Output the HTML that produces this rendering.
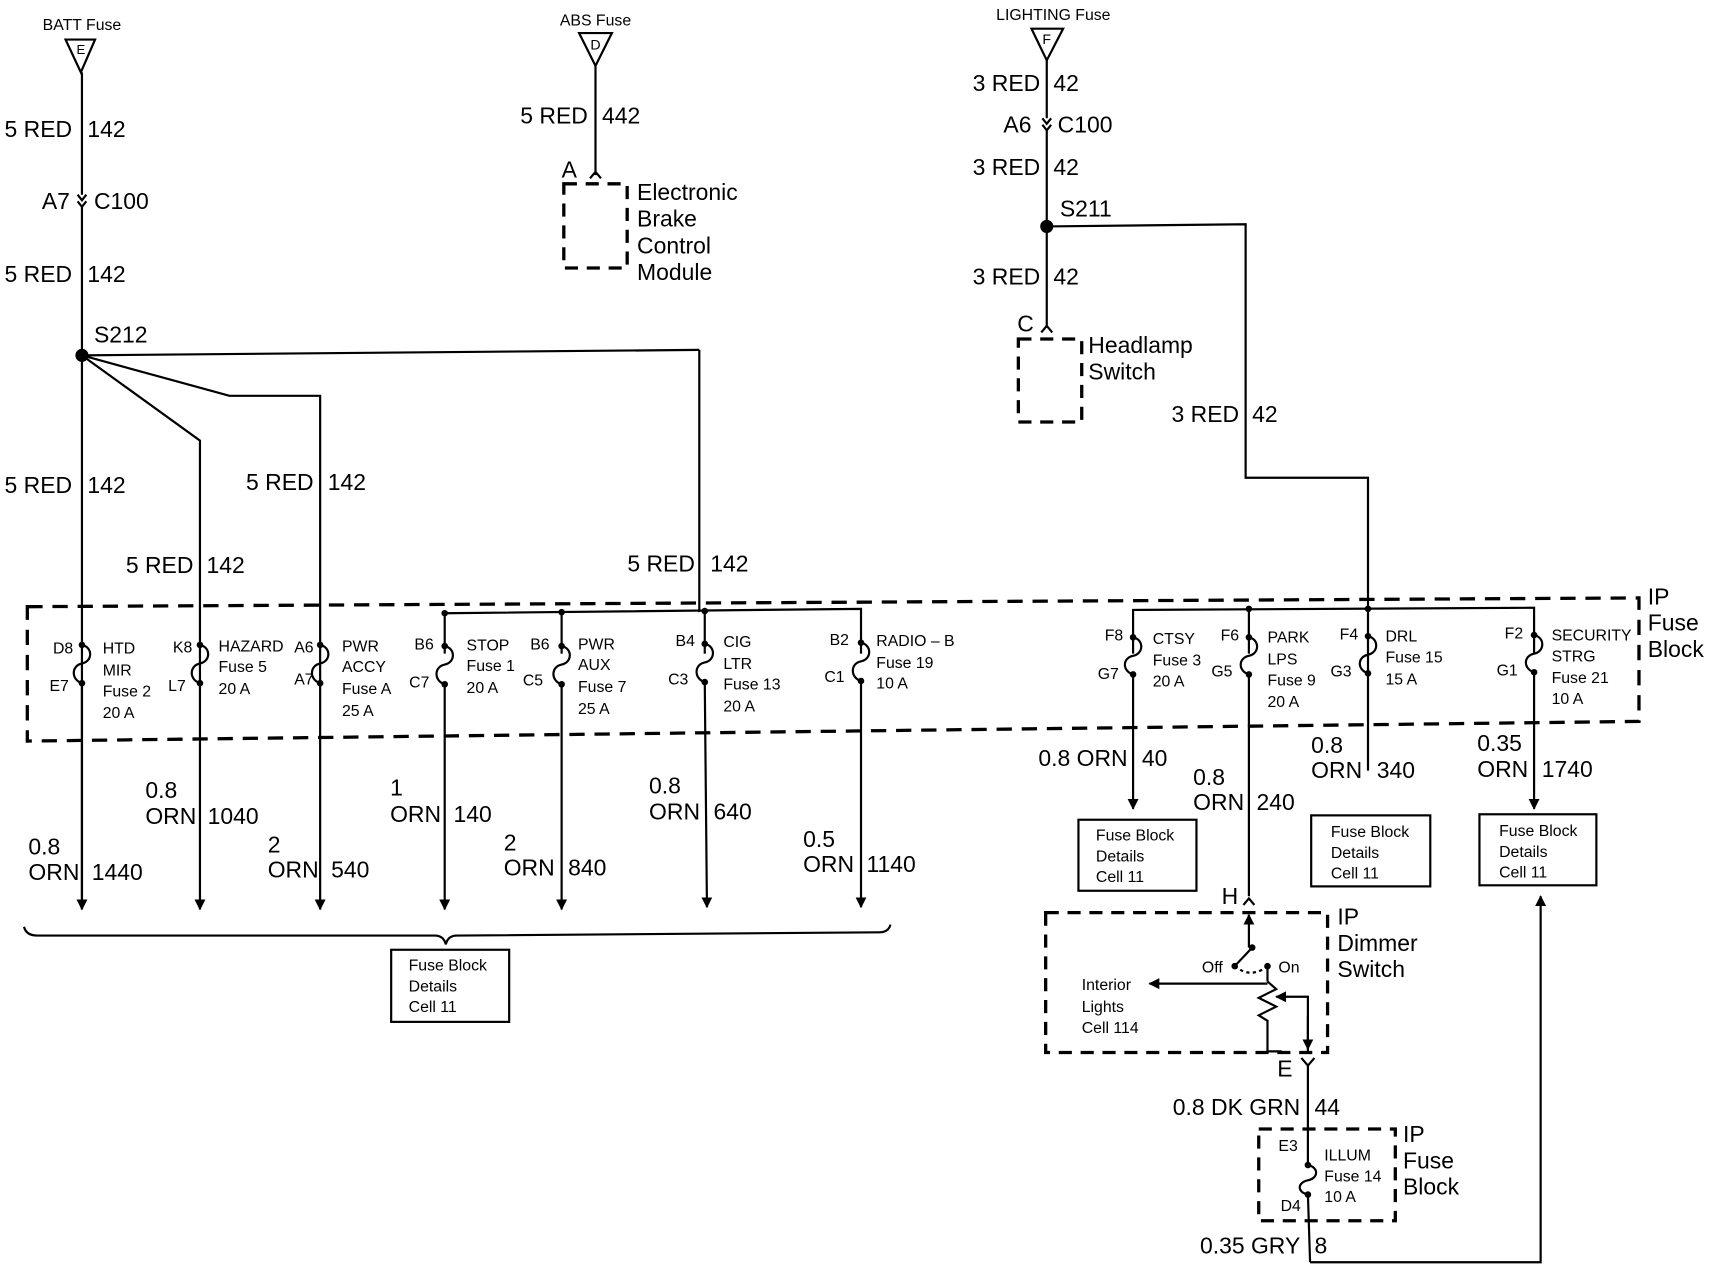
<!DOCTYPE html>
<html><head><meta charset="utf-8"><style>
html,body{margin:0;padding:0;background:#fff}
svg{display:block}
text{font-family:"Liberation Sans",sans-serif;fill:#000}
.b{font-size:21px}
.s{font-size:14.5px}
.m{font-size:16px}
</style></head><body>
<svg width="1710" height="1280" viewBox="0 0 1565 1171" xmlns="http://www.w3.org/2000/svg">
<defs>
<marker id="ad" viewBox="0 0 10 10" refX="9" refY="5" markerWidth="5" markerHeight="6" orient="auto"><path d="M0,0 L10,5 L0,10 z" fill="#000"/></marker>
</defs>
<g stroke="#000" stroke-width="2" fill="none">
<!-- BATT -->
<path d="M60,36 L87,36 L74,66 Z"/>
<line x1="75" y1="66" x2="75" y2="178"/>
<path d="M71,178 l4,5 l4,-5 M71,184 l4,5 l4,-5"/>
<line x1="75" y1="189" x2="75" y2="832" marker-end="url(#ad)"/>
<line x1="75" y1="325" x2="640" y2="320"/><line x1="640" y1="320" x2="640" y2="560"/>
<polyline points="75,325 183,403 183,832" marker-end="url(#ad)"/>
<polyline points="75,325 210,362 293,362 293,832" marker-end="url(#ad)"/>
<!-- IP fuse block dashed -->
<polygon points="25,555 1500,547 1500,660 25,678" stroke-width="3" stroke-dasharray="14,9"/>
<!-- bus left -->
<polyline points="407,598 407,561 788,557 788,598"/>
<line x1="514" y1="560" x2="514" y2="598"/>
<line x1="645" y1="558" x2="645" y2="598"/>
<!-- fuses left -->
<g id="fz">
<path d="M75,590 C85,592 85,605 75,607 C65,609 65,622 75,625"/>
<path d="M183,590 C193,592 193,605 183,607 C173,609 173,622 183,625"/>
<path d="M293,590 C303,592 303,605 293,607 C283,609 283,622 293,625"/>
<path d="M407,591 C417,593 417,606 407,608 C397,610 397,623 407,626"/>
<path d="M514,591 C524,593 524,606 514,608 C504,610 504,623 514,626"/>
<path d="M645,589 C655,591 655,604 645,606 C635,608 635,621 645,624"/>
<path d="M788,588 C798,590 798,603 788,605 C778,607 778,620 788,623"/>
</g>
<line x1="75" y1="625" x2="75" y2="832"/>
<line x1="407" y1="626" x2="407" y2="832" marker-end="url(#ad)"/>
<line x1="514" y1="626" x2="514" y2="832" marker-end="url(#ad)"/>
<line x1="645" y1="624" x2="647" y2="830" marker-end="url(#ad)"/>
<line x1="788" y1="623" x2="788" y2="830" marker-end="url(#ad)"/>
<!-- brace -->
<path d="M22,848 Q24,856 34,856 L398,856 Q406,856 408,864 Q410,856 418,856 L805,853 Q813,853 815,846"/>
<rect x="358" y="869" width="108" height="66"/>
<!-- ABS -->
<path d="M530,30 L560,30 L545,60 Z"/>
<line x1="545" y1="60" x2="545" y2="160"/>
<path d="M540,163 l5,-6 l5,6"/>
<rect x="516" y="168" width="58" height="77" stroke-width="3" stroke-dasharray="12,8"/>
<!-- LIGHTING -->
<path d="M944,26 L973,26 L958,55 Z"/>
<line x1="958" y1="55" x2="958" y2="108"/>
<path d="M954,108 l4,5 l4,-5 M954,114 l4,5 l4,-5"/>
<line x1="958" y1="119" x2="958" y2="300"/>
<path d="M953,304 l5,-6 l5,6"/>
<rect x="932" y="310" width="58" height="76" stroke-width="3" stroke-dasharray="12,8"/>
<polyline points="958,207 1140,205 1140,437 1252,437 1252,705"/>
<!-- bus right -->
<polyline points="1037,598 1037,558 1404,556 1404,598"/>
<line x1="1143" y1="557" x2="1143" y2="598"/>
<path d="M1037,583 C1047,585 1047,598 1037,600 C1027,602 1027,614 1037,617"/>
<path d="M1143,583 C1153,585 1153,598 1143,600 C1133,602 1133,614 1143,617"/>
<path d="M1252,582 C1262,584 1262,597 1252,599 C1242,601 1242,613 1252,616"/>
<path d="M1404,581 C1414,583 1414,596 1404,598 C1394,600 1394,612 1404,615"/>
<line x1="1037" y1="617" x2="1037" y2="740" marker-end="url(#ad)"/>
<line x1="1143" y1="617" x2="1143" y2="820"/>
<path d="M1138,828 l5,-6 l5,6"/>
<line x1="1404" y1="615" x2="1404" y2="740" marker-end="url(#ad)"/>
<rect x="987" y="750" width="108" height="65"/>
<rect x="1200" y="746" width="109" height="65"/>
<rect x="1354" y="745" width="107" height="65"/>
<polyline points="1199,1155 1410,1155 1410,820" marker-end="url(#ad)"/>
<!-- dimmer -->
<rect x="957" y="835" width="258" height="128" stroke-width="3" stroke-dasharray="12,8"/>
<line x1="1143" y1="867" x2="1143" y2="837" marker-end="url(#ad)"/>
<line x1="1146" y1="867" x2="1130" y2="884"/>
<path d="M1130,884 Q1145,896 1160,884" stroke-dasharray="3,3"/>
<line x1="1160" y1="884" x2="1160" y2="898"/>
<line x1="1160" y1="900" x2="1052" y2="900" marker-end="url(#ad)"/>
<polyline points="1160,898 1168,905 1152,913 1168,921 1152,929 1160,934 1160,962 1173,962"/>
<polyline points="1197,962 1197,912 1168,912" marker-end="url(#ad)"/>
<line x1="1197" y1="930" x2="1197" y2="960" marker-end="url(#ad)"/>
<path d="M1191,968 l6,7 l6,-7 M1197,975 L1197,1066"/>
<rect x="1152" y="1033" width="125" height="84" stroke-width="3" stroke-dasharray="12,8"/>
<path d="M1197,1066 C1207,1068 1207,1078 1197,1080 C1187,1082 1187,1091 1197,1093"/>
<line x1="1197" y1="1093" x2="1199" y2="1155"/>
</g>
<!-- dots -->
<g fill="#000">
<circle cx="75" cy="325" r="6"/><circle cx="958" cy="207" r="6"/>
<circle cx="407" cy="561" r="3"/><circle cx="514" cy="560" r="3"/><circle cx="645" cy="559" r="3"/>
<circle cx="1143" cy="557" r="3"/><circle cx="1252" cy="557" r="3"/>
<circle cx="75" cy="590" r="3"/><circle cx="75" cy="625" r="3"/>
<circle cx="183" cy="590" r="3"/><circle cx="183" cy="625" r="3"/>
<circle cx="293" cy="590" r="3"/><circle cx="293" cy="625" r="3"/>
<circle cx="407" cy="591" r="3"/><circle cx="407" cy="626" r="3"/>
<circle cx="514" cy="591" r="3"/><circle cx="514" cy="626" r="3"/>
<circle cx="645" cy="589" r="3"/><circle cx="645" cy="624" r="3"/>
<circle cx="788" cy="588" r="3"/><circle cx="788" cy="623" r="3"/>
<circle cx="1037" cy="583" r="3"/><circle cx="1037" cy="617" r="3"/>
<circle cx="1143" cy="583" r="3"/><circle cx="1143" cy="617" r="3"/>
<circle cx="1252" cy="582" r="3"/><circle cx="1252" cy="616" r="3"/>
<circle cx="1404" cy="581" r="3"/><circle cx="1404" cy="615" r="3"/>
<circle cx="1146" cy="867" r="3"/><circle cx="1130" cy="884" r="3"/><circle cx="1160" cy="884" r="3"/>
<circle cx="1197" cy="1066" r="3"/><circle cx="1197" cy="1093" r="3"/>
</g>
<!-- texts -->
<g class="s">
<text x="75" y="27" text-anchor="middle">BATT Fuse</text>
<text x="74" y="49" text-anchor="middle" font-size="12">E</text>
<text x="545" y="23" text-anchor="middle">ABS Fuse</text>
<text x="545" y="45" text-anchor="middle" font-size="13">D</text>
<text x="964" y="18" text-anchor="middle">LIGHTING Fuse</text>
<text x="958" y="40" text-anchor="middle" font-size="13">F</text>
</g>
<g class="b">
<text x="66" y="125" text-anchor="end">5 RED</text><text x="80" y="125">142</text>
<text x="64" y="191" text-anchor="end">A7</text><text x="86" y="191">C100</text>
<text x="66" y="258" text-anchor="end">5 RED</text><text x="80" y="258">142</text>
<text x="86" y="313">S212</text>
<text x="66" y="451" text-anchor="end">5 RED</text><text x="80" y="451">142</text>
<text x="177" y="524" text-anchor="end">5 RED</text><text x="189" y="524">142</text>
<text x="287" y="448" text-anchor="end">5 RED</text><text x="300" y="448">142</text>
<text x="636" y="523" text-anchor="end">5 RED</text><text x="650" y="523">142</text>
<text x="538" y="113" text-anchor="end">5 RED</text><text x="551" y="113">442</text>
<text x="514" y="162">A</text>
<text x="583" y="183">Electronic</text><text x="583" y="207">Brake</text><text x="583" y="232">Control</text><text x="583" y="256">Module</text>
<text x="952" y="83" text-anchor="end">3 RED</text><text x="964" y="83">42</text>
<text x="944" y="121" text-anchor="end">A6</text><text x="968" y="121">C100</text>
<text x="952" y="160" text-anchor="end">3 RED</text><text x="964" y="160">42</text>
<text x="970" y="198">S211</text>
<text x="952" y="260" text-anchor="end">3 RED</text><text x="964" y="260">42</text>
<text x="931" y="303">C</text>
<text x="996" y="323">Headlamp</text><text x="996" y="347">Switch</text>
<text x="1134" y="386" text-anchor="end">3 RED</text><text x="1146" y="386">42</text>
<text x="1508" y="553">IP</text><text x="1508" y="577">Fuse</text><text x="1508" y="601">Block</text>
<text x="26" y="782">0.8</text><text x="26" y="805">ORN</text><text x="84" y="805">1440</text>
<text x="133" y="730">0.8</text><text x="133" y="754">ORN</text><text x="190" y="754">1040</text>
<text x="245" y="780">2</text><text x="245" y="803">ORN</text><text x="303" y="803">540</text>
<text x="357" y="728">1</text><text x="357" y="752">ORN</text><text x="415" y="752">140</text>
<text x="461" y="778">2</text><text x="461" y="801">ORN</text><text x="520" y="801">840</text>
<text x="594" y="726">0.8</text><text x="594" y="750">ORN</text><text x="653" y="750">640</text>
<text x="735" y="775">0.5</text><text x="735" y="798">ORN</text><text x="793" y="798">1140</text>
<text x="1032" y="701" text-anchor="end">0.8 ORN</text><text x="1045" y="701">40</text>
<text x="1092" y="718">0.8</text><text x="1092" y="741">ORN</text><text x="1150" y="741">240</text>
<text x="1200" y="689">0.8</text><text x="1200" y="712">ORN</text><text x="1260" y="712">340</text>
<text x="1352" y="687">0.35</text><text x="1352" y="711">ORN</text><text x="1411" y="711">1740</text>
<text x="1118" y="827">H</text>
<text x="1224" y="846">IP</text><text x="1224" y="870">Dimmer</text><text x="1224" y="894">Switch</text>
<text x="1169" y="985">E</text>
<text x="1190" y="1020" text-anchor="end">0.8 DK GRN</text><text x="1203" y="1020">44</text>
<text x="1284" y="1045">IP</text><text x="1284" y="1069">Fuse</text><text x="1284" y="1093">Block</text>
<text x="1190" y="1147" text-anchor="end">0.35 GRY</text><text x="1203" y="1147">8</text>
</g>
<g class="s">
<text x="67" y="598" text-anchor="end">D8</text><text x="63" y="632" text-anchor="end">E7</text>
<text x="94" y="598">HTD</text><text x="94" y="618">MIR</text><text x="94" y="637">Fuse 2</text><text x="94" y="657">20 A</text>
<text x="176" y="597" text-anchor="end">K8</text><text x="170" y="632" text-anchor="end">L7</text>
<text x="200" y="596">HAZARD</text><text x="200" y="615">Fuse 5</text><text x="200" y="635">20 A</text>
<text x="287" y="597" text-anchor="end">A6</text><text x="287" y="626" text-anchor="end">A7</text>
<text x="313" y="596">PWR</text><text x="313" y="615">ACCY</text><text x="313" y="635">Fuse A</text><text x="313" y="655">25 A</text>
<text x="397" y="594" text-anchor="end">B6</text><text x="393" y="629" text-anchor="end">C7</text>
<text x="427" y="595">STOP</text><text x="427" y="614">Fuse 1</text><text x="427" y="634">20 A</text>
<text x="503" y="594" text-anchor="end">B6</text><text x="497" y="627" text-anchor="end">C5</text>
<text x="529" y="594">PWR</text><text x="529" y="613">AUX</text><text x="529" y="633">Fuse 7</text><text x="529" y="653">25 A</text>
<text x="636" y="591" text-anchor="end">B4</text><text x="630" y="626" text-anchor="end">C3</text>
<text x="662" y="592">CIG</text><text x="662" y="612">LTR</text><text x="662" y="631">Fuse 13</text><text x="662" y="651">20 A</text>
<text x="777" y="590" text-anchor="end">B2</text><text x="773" y="624" text-anchor="end">C1</text>
<text x="802" y="591">RADIO – B</text><text x="802" y="611">Fuse 19</text><text x="802" y="630">10 A</text>
<text x="374" y="888">Fuse Block</text><text x="374" y="907">Details</text><text x="374" y="926">Cell 11</text>
<text x="1028" y="586" text-anchor="end">F8</text><text x="1024" y="621" text-anchor="end">G7</text>
<text x="1055" y="589">CTSY</text><text x="1055" y="609">Fuse 3</text><text x="1055" y="628">20 A</text>
<text x="1134" y="586" text-anchor="end">F6</text><text x="1128" y="619" text-anchor="end">G5</text>
<text x="1160" y="588">PARK</text><text x="1160" y="608">LPS</text><text x="1160" y="627">Fuse 9</text><text x="1160" y="647">20 A</text>
<text x="1243" y="585" text-anchor="end">F4</text><text x="1237" y="619" text-anchor="end">G3</text>
<text x="1268" y="587">DRL</text><text x="1268" y="606">Fuse 15</text><text x="1268" y="626">15 A</text>
<text x="1394" y="584" text-anchor="end">F2</text><text x="1389" y="618" text-anchor="end">G1</text>
<text x="1420" y="586">SECURITY</text><text x="1420" y="605">STRG</text><text x="1420" y="625">Fuse 21</text><text x="1420" y="644">10 A</text>
<text x="1003" y="769">Fuse Block</text><text x="1003" y="788">Details</text><text x="1003" y="807">Cell 11</text>
<text x="1218" y="766">Fuse Block</text><text x="1218" y="785">Details</text><text x="1218" y="804">Cell 11</text>
<text x="1372" y="765">Fuse Block</text><text x="1372" y="784">Details</text><text x="1372" y="803">Cell 11</text>
<text x="1100" y="890">Off</text><text x="1170" y="890">On</text>
<text x="990" y="906">Interior</text><text x="990" y="926">Lights</text><text x="990" y="945">Cell 114</text>
<text x="1170" y="1053">E3</text><text x="1172" y="1108">D4</text>
<text x="1212" y="1062">ILLUM</text><text x="1212" y="1081">Fuse 14</text><text x="1212" y="1100">10 A</text>
</g>
</svg>
</body></html>
